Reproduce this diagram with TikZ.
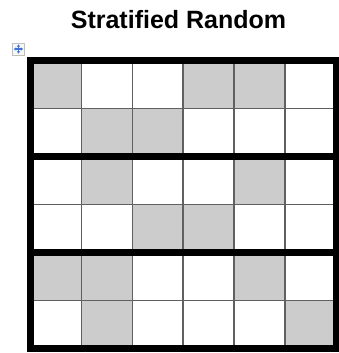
\documentclass[tikz,border=0pt]{standalone}
\usepackage{fontspec}
\setmainfont{Liberation Sans}
\usetikzlibrary{arrows.meta}
\definecolor{cellgray}{HTML}{CCCCCC}
\definecolor{gridline}{HTML}{606060}
\definecolor{handleblue}{HTML}{3B73D9}
\def\cw{50.92}
\def\rh{48}

\begin{document}
\begin{tikzpicture}[
  x=1pt,y=-1pt,
  every node/.style={inner sep=0pt},
  shaded/.style={fill=cellgray},
  thinrule/.style={draw=gridline,line width=1.6pt},
  thickrule/.style={draw=black,line width=7pt},
  handle/.style={draw=black!25,fill=black!3,line width=0.8pt,minimum size=12pt},
  handlearrow/.style={draw=handleblue,line width=1.3pt,-{Latex[length=2.2pt,width=3.6pt]}}
]
\useasboundingbox (0,0) rectangle (339,353);
% title
\node[anchor=base,font=\bfseries\fontsize{25}{30}\selectfont] (title) at (178.5,29) {Stratified Random};
% table move handle
\node[handle] (handle) at (18.5,49) {};
\foreach \dx/\dy in {1/0,-1/0,0/1,0/-1}
  \draw[handlearrow] (handle.center) -- ++({4.6*\dx},{4.6*\dy});
% shaded cells (column/row)
\foreach \c/\r in {1/1,4/1,5/1,2/2,3/2,2/3,5/3,3/4,4/4,1/5,2/5,5/5,2/6,6/6}
  \fill[shaded] ({30.5+(\c-1)*\cw},{60.5+(\r-1)*\rh}) rectangle ++(\cw,\rh);
% thin grid
\foreach \c in {1,...,5}
  \draw[thinrule] ({30.5+\c*\cw},60.5) -- ++(0,288);
\foreach \r in {1,3,5}
  \draw[thinrule] (30.5,{60.5+\r*\rh}) -- ++(305.5,0);
% strata borders
\draw[thickrule] (30.5,60.5) rectangle (336,348.5);
\foreach \r in {2,4}
  \draw[thickrule] (30.5,{60.5+\r*\rh}) -- ++(305.5,0);
\end{tikzpicture}
\end{document}
